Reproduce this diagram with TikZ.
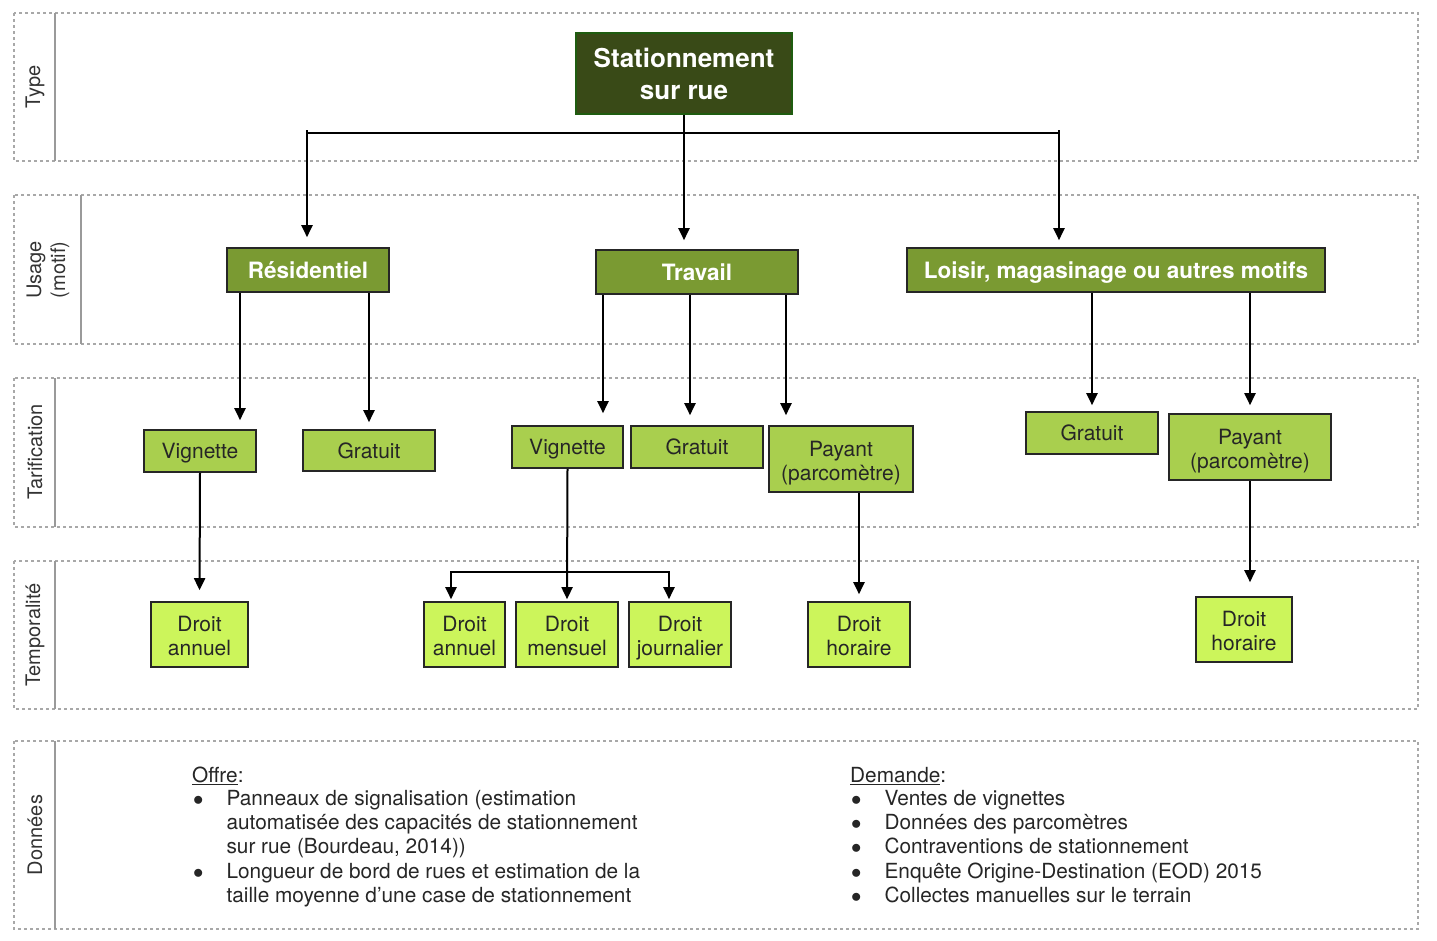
\documentclass[tikz,border=0pt]{standalone}
\usepackage{fontspec}
\setmainfont{TeX Gyre Heros}
\usetikzlibrary{arrows.meta,calc,positioning}

\definecolor{bandgray}{HTML}{A8A8A8}
\definecolor{labgray}{HTML}{9A9A9A}
\definecolor{typefill}{HTML}{394A17}
\definecolor{typeline}{HTML}{1F5C10}
\definecolor{usagefill}{HTML}{7A9A32}
\definecolor{tariffill}{HTML}{A9CF4E}
\definecolor{tempfill}{HTML}{CCF55B}
\definecolor{boxline}{HTML}{262626}

\tikzset{
  band/.style={draw=bandgray, line width=2.6pt, dash pattern=on 2.6pt off 3.4pt},
  labline/.style={draw=labgray, line width=1.6pt},
  bandlab/.style={font=\fontsize{20}{24}\selectfont, text=black!80, rotate=90, align=center},
  box/.style={draw=boxline, line width=1.6pt, align=center, inner sep=0pt},
  typebox/.style={box, fill=typefill, draw=typeline, text=white, font=\bfseries\fontsize{26}{32}\selectfont},
  usagebox/.style={box, fill=usagefill, text=white, font=\bfseries\fontsize{22.5}{26}\selectfont,
    minimum height=44pt, text height=16pt, text depth=0pt},
  tarifbox/.style={box, fill=tariffill, text=black!85, font=\fontsize{21}{24}\selectfont},
  tarifone/.style={tarifbox, minimum height=42pt, text height=15pt, text depth=0pt},
  tempbox/.style={box, fill=tempfill, text=black!85, font=\fontsize{21}{24}\selectfont, minimum height=65pt},
  link/.style={line width=2pt, black},
  arr/.style={link, -{Triangle[width=11pt,length=12pt]}},
  datatext/.style={font=\fontsize{20.8}{24.3}\selectfont, text=black!85, inner sep=0pt}
}
\newcommand{\itemdot}{$\bullet$}
\newcommand{\topstrut}{\rule{0pt}{25.5pt}}

\begin{document}
\begin{tikzpicture}[x=1pt, y=-1pt]
\useasboundingbox (0,0) rectangle (1437,940);

% Bands and their labels.
\foreach \top/\bot/\lx in {13/161/55, 195/344/81, 378/527/55, 561/709/55, 741/929/55}{
  \draw[band] (14,\top) rectangle (1418,\bot);
  \draw[labline] (\lx,\top) -- (\lx,\bot);
}
\node[bandlab] (ltype) at (35,87) {Type};
\node[bandlab] (lusage) at (48,270) {Usage\\(motif)};
\node[bandlab] (ltarif) at (35,452) {Tarification};
\node[bandlab] (ltemp) at (35,635) {Temporalité};
\node[bandlab] (ldata) at (35,835) {Données};

% Type.
\node[typebox, minimum width=216pt, minimum height=81pt] (title) at (684,73.5) {Stationnement\\sur rue};

% Usage.
\node[usagebox, minimum width=162pt] (res) at (308,270) {Résidentiel};
\node[usagebox, minimum width=202pt] (trav) at (697,272) {Travail};
\node[usagebox, minimum width=418pt] (lois) at (1116,270) {Loisir, magasinage ou autres motifs};

% Tarification.
\node[tarifone, minimum width=112pt] (rvig) at (200,451) {Vignette};
\node[tarifone, minimum width=132pt, minimum height=41pt] (rgra) at (369,450.5) {Gratuit};
\node[tarifone, minimum width=111pt] (tvig) at (567.5,447) {Vignette};
\node[tarifone, minimum width=132pt] (tgra) at (697,447) {Gratuit};
\node[tarifbox, minimum width=144pt, minimum height=66pt] (tpay) at (841,459) {\topstrut Payant\\\strut(parcomètre)};
\node[tarifone, minimum width=132pt] (lgra) at (1092,433) {Gratuit};
\node[tarifbox, minimum width=162pt, minimum height=66pt] (lpay) at (1250,447) {\topstrut Payant\\\strut(parcomètre)};

% Temporalite.
\node[tempbox, minimum width=97pt] (rann) at (199.5,634.5) {\topstrut Droit\\\strut annuel};
\node[tempbox, minimum width=81pt] (tann) at (464.5,634.5) {\topstrut Droit\\\strut annuel};
\node[tempbox, minimum width=102pt] (tmen) at (567,634.5) {\topstrut Droit\\\strut mensuel};
\node[tempbox, minimum width=102pt] (tjou) at (680,634.5) {\topstrut Droit\\\strut journalier};
\node[tempbox, minimum width=102pt] (thor) at (859,634.5) {\topstrut Droit\\\strut horaire};
\node[tempbox, minimum width=96pt] (lhor) at (1244,629.5) {\topstrut Droit\\\strut horaire};

% Tree below the title.
\coordinate (split) at (684,133);
\draw[arr, shorten >=9pt] (title.south) -- (title.south |- trav.north);
\draw[link] (split -| 307,0) -- (split -| 1059,0);
\draw[arr, shorten >=10pt] (307,130) -- (res.north -| 307,0);
\draw[arr, shorten >=7pt] (1059,130) -- (lois.north -| 1059,0);

% Usage to tarification.
\draw[arr, shorten >=9pt] (res.south -| 240,0) -- (rvig.north -| 240,0);
\draw[arr, shorten >=7pt] (res.south -| 369,0) -- (rgra.north);
\draw[arr, shorten >=12pt] (trav.south -| 603,0) -- (tvig.north -| 603,0);
\draw[arr, shorten >=10pt] (trav.south -| 690,0) -- (tgra.north -| 690,0);
\draw[arr, shorten >=10pt] (trav.south -| 786,0) -- (tpay.north -| 786,0);
\draw[arr, shorten >=6pt] (lois.south -| lgra.north) -- (lgra.north);
\draw[arr, shorten >=8pt] (lois.south -| lpay.north) -- (lpay.north);

% Tarification to temporalite.
\draw[arr, shorten >=11pt] (rvig.south) -- (rann.north);
\coordinate (fork) at (567,572);
\draw[arr, shorten >=2pt] (tvig.south) -- (tmen.north);
\draw[arr, shorten >=2pt] (fork) -| ([xshift=-13.5pt]tann.north);
\draw[arr, shorten >=2pt] (fork) -| ([xshift=-11pt]tjou.north);
\draw[arr, shorten >=7pt] (tpay.south -| thor.north) -- (thor.north);
\draw[arr, shorten >=14pt] (lpay.south) -- (lpay.south |- lhor.north);

% Donnees.
\node[datatext, anchor=base west] (offre) at (192,782) {\underline{Offre}:};
\node[datatext, anchor=north west] (offlist) at (192,788) {%
  \begin{tabular}{@{\hspace{1pt}}l@{\hspace{23pt}}l@{}}
  \itemdot & Panneaux de signalisation (estimation\\
  & automatisée des capacités de stationnement\\
  & sur rue (Bourdeau, 2014))\\
  \itemdot & Longueur de bord de rues et estimation de la\\
  & taille moyenne d’une case de stationnement
  \end{tabular}};
\node[datatext, anchor=base west] (demande) at (850,782) {\underline{Demande}:};
\node[datatext, anchor=north west] (demlist) at (850,788) {%
  \begin{tabular}{@{\hspace{1pt}}l@{\hspace{23pt}}l@{}}
  \itemdot & Ventes de vignettes\\
  \itemdot & Données des parcomètres\\
  \itemdot & Contraventions de stationnement\\
  \itemdot & Enquête Origine-Destination (EOD) 2015\\
  \itemdot & Collectes manuelles sur le terrain
  \end{tabular}};
\end{tikzpicture}
\end{document}
